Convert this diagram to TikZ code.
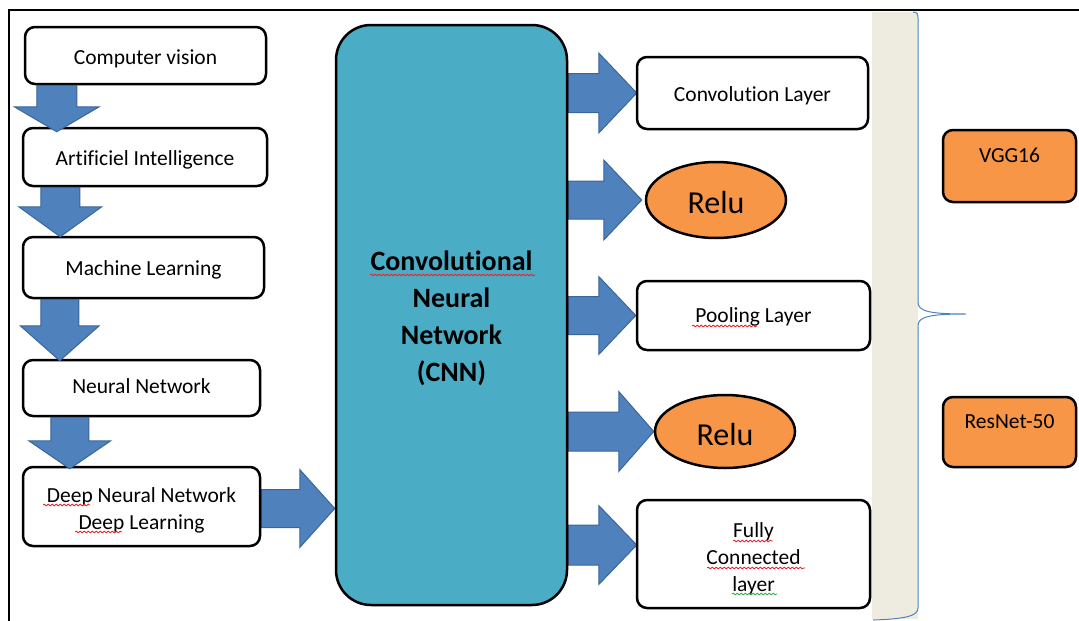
\documentclass[tikz,border=0pt]{standalone}
\usepackage{fontspec}
\setmainfont{Carlito}[Ligatures=NoCommon]
\usetikzlibrary{calc,backgrounds,decorations.pathmorphing,shapes.geometric}

\definecolor{arrowblue}{HTML}{4F81BD}
\definecolor{arrowedge}{HTML}{3B6699}
\definecolor{cnnteal}{HTML}{4BACC6}
\definecolor{accent}{HTML}{F79646}
\definecolor{bandgray}{HTML}{EEECE1}
\definecolor{spellred}{HTML}{E8242B}
\definecolor{spellgreen}{HTML}{3DAA47}

\tikzset{
  box/.style={draw=black, line width=2.5pt, rounded corners=10pt, fill=white,
    inner sep=0pt, font=\fontsize{21.5}{27}\selectfont},
  orangebox/.style={box, fill=accent, text height=15pt, text depth=22pt},
  oval/.style={ellipse, draw=black, line width=2.5pt, fill=accent, inner sep=0pt,
    font=\fontsize{32}{38}\selectfont},
  bigbox/.style={draw=black, line width=2.5pt, rounded corners=35pt, fill=cnnteal,
    inner sep=0pt, font=\fontsize{28}{37}\selectfont\bfseries},
  blockarrow/.style={fill=arrowblue, draw=arrowedge, line width=1pt, line join=miter},
  squig/.style={decorate, decoration={snake, segment length=4pt, amplitude=0.9pt},
    line width=0.8pt},
}

% centred lines of text, lowered by #1 inside their box
\newcommand\boxtext[2]{\raisebox{-#1}[\height][\depth]{\begin{tabular}{@{}c@{}}#2\end{tabular}}}

% block arrow pointing down: start, tip, shaft half width, head half width, head length
\newcommand\blockdown[5]{%
  \path[blockarrow] let \p1=#1, \p2=#2 in
    (\x2-#3pt,\y1) -- (\x2-#3pt,\y2+#5pt) -- (\x2-#4pt,\y2+#5pt) -- (\x2,\y2)
    -- (\x2+#4pt,\y2+#5pt) -- (\x2+#3pt,\y2+#5pt) -- (\x2+#3pt,\y1) -- cycle;}
% block arrow pointing right: start, tip, shaft half width, head half width, head length
\newcommand\blockright[5]{%
  \path[blockarrow] let \p1=#1, \p2=#2 in
    (\x1,\y2+#3pt) -- (\x2-#5pt,\y2+#3pt) -- (\x2-#5pt,\y2+#4pt) -- (\x2,\y2)
    -- (\x2-#5pt,\y2-#4pt) -- (\x2-#5pt,\y2-#3pt) -- (\x1,\y2-#3pt) -- cycle;}

\begin{document}
\begin{tikzpicture}[x=1pt, y=-1pt]
\useasboundingbox (0,0) rectangle (1079,621);

% learning hierarchy
\node[box, minimum width=241pt, minimum height=57pt] (cv)  at (145.5,55.5) {\boxtext{4pt}{Computer vision}};
\node[box, minimum width=244pt, minimum height=58pt] (ai)  at (145,157)    {\boxtext{3pt}{Artificiel Intelligence}};
\node[box, minimum width=241pt, minimum height=61pt] (ml)  at (143.5,267.5) {\boxtext{3pt}{Machine Learning}};
\node[box, minimum width=237pt, minimum height=56pt] (nn)  at (141.5,388)  {\boxtext{0pt}{Neural Network}};
\node[box, minimum width=237pt, minimum height=79pt] (dnn) at (141.5,506.5) {\boxtext{4pt}{Deep Neural Network\\Deep Learning}};

% central block
\node[bigbox, minimum width=231pt, minimum height=580pt] (cnn) at (451.5,315)
  {\boxtext{4pt}{Convolutional\\Neural\\Network\\(CNN)}};

% layers
\node[box, minimum width=231pt, minimum height=72pt] (conv) at (752.5,93) {\boxtext{3pt}{Convolution Layer}};
\node[oval, minimum width=140pt, minimum height=76pt] (relu1) at (716,200) {\boxtext{6pt}{Relu}};
\node[box, minimum width=233pt, minimum height=69pt] (pool) at (753.5,315.5) {\boxtext{2pt}{Pooling Layer}};
\node[oval, minimum width=140pt, minimum height=73pt] (relu2) at (725,431.5) {\boxtext{6pt}{Relu}};
\node[box, minimum width=233pt, minimum height=108pt] (fc) at (753.5,554) {\boxtext{5pt}{Fully\\Connected\\layer}};

% models
\node[orangebox, minimum width=133pt, minimum height=72pt] (vgg) at (1009.5,166) {VGG16};
\node[orangebox, minimum width=133pt, minimum height=70pt] (resnet) at (1009.5,432) {ResNet-50};

\begin{scope}[on background layer]
  % frame
  \draw[line width=1.8pt] (9,621) -- (9,10) -- (1079,10);
  % shaded band and brace
  \fill[bandgray] (872,12) rectangle (918,619);
  \draw[arrowblue, line width=1pt] (913,12) .. controls (917,12) and (918,14) .. (918,18)
    -- (918,302) .. controls (918,311) and (928,314) .. (966,314)
    .. controls (928,314) and (918,317) .. (918,326)
    -- (918,608) .. controls (918,616) and (905,619) .. (873,620);
  % arrows leaving the central block
  \blockright{(cnn.east |- conv.west)}{($(conv.west)+(1,0)$)}{19.5}{40}{38}
  \blockright{(cnn.east |- relu1.west)}{($(relu1.west)+(-3,0)$)}{19}{40}{38}
  \blockright{(cnn.east |- pool.west)}{(pool.west)}{19}{39}{37}
  \blockright{(cnn.east |- relu2.west)}{(relu2.west)}{19.5}{40}{35}
  \blockright{($(cnn.east |- fc.west)+(0,-9)$)}{($(fc.west)+(1,-9)$)}{20}{39.5}{38}
  \blockright{(dnn.east)}{($(cnn.west |- dnn.east)+(0,2)$)}{19}{39}{35}
\end{scope}

% arrows down the hierarchy
\blockdown{(cv.south)}{($(ai.north west)+(35,5)$)}{20}{42.5}{25}
\blockdown{(ai.south)}{($(ml.north west)+(38.5,1)$)}{19.5}{41.5}{30}
\blockdown{(ml.south)}{($(nn.north west)+(38,2)$)}{19}{39.5}{35}
\blockdown{(nn.south)}{($(dnn.north west)+(48,3)$)}{19}{41}{28}

% spelling marks under words
\draw[squig, spellred] ($(dnn.center)+(-98.5,-1.5)$) -- ++(47,0);
\draw[squig, spellred] ($(dnn.center)+(-66.5,25.5)$) -- ++(47,0);
\draw[squig, spellred] ($(cnn.center)+(-81.5,-40)$) -- ++(165,0);
\draw[squig, spellred] ($(pool.center)+(-61.5,10.5)$) -- ++(65,0);
\draw[squig, spellred] ($(fc.center)+(-20.5,-13)$) -- ++(40,0);
\draw[squig, spellred] ($(fc.center)+(-46.5,14)$) -- ++(98,0);
\draw[squig, spellgreen] ($(fc.center)+(-21.5,40)$) -- ++(45,0);
\end{tikzpicture}
\end{document}
